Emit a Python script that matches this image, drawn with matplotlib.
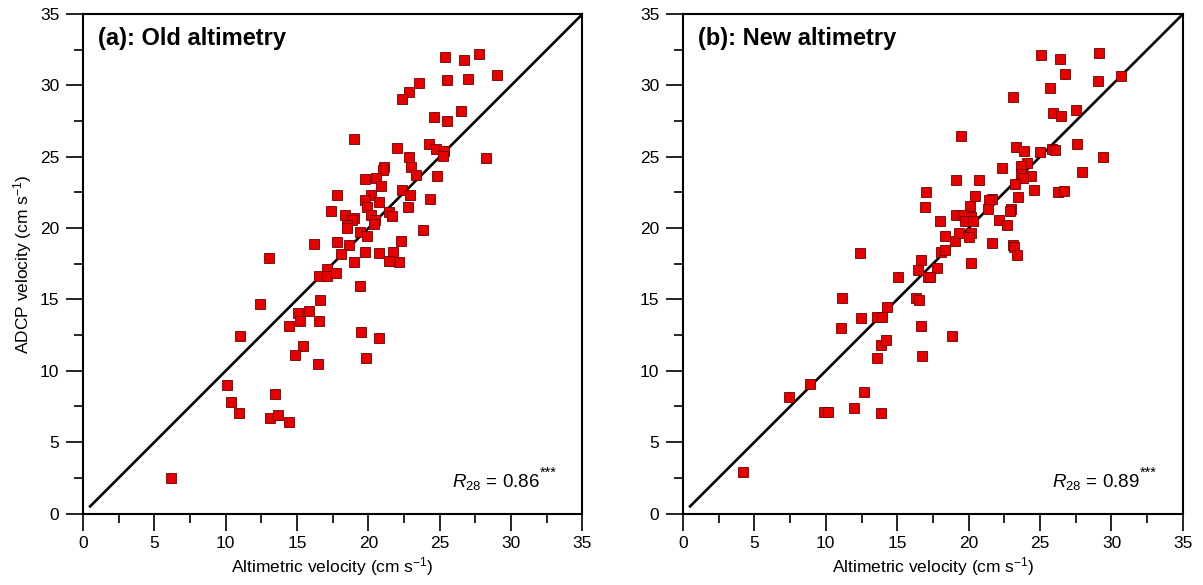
import matplotlib
matplotlib.use("Agg")
import matplotlib.pyplot as plt
from matplotlib.ticker import MultipleLocator

plt.rcParams['font.family'] = ['Liberation Sans', 'DejaVu Sans']
plt.rcParams['mathtext.fontset'] = 'custom'
plt.rcParams['mathtext.rm'] = 'Liberation Sans'
plt.rcParams['mathtext.it'] = 'Liberation Sans:italic'

# (a) old altimetry: altimetric vs ADCP velocity (cm/s)
old_alt = [25.34, 26.67, 27.77, 28.98, 25.5, 26.95, 23.56, 22.81, 22.35, 26.46, 24.59, 25.53,
           18.96, 22.0, 24.26, 24.73, 25.32, 25.22, 28.21, 22.81, 23.0, 21.08, 21.04, 23.35,
           24.78, 19.78, 20.55, 20.9, 17.79, 20.17, 22.37, 22.89, 24.33, 19.75, 20.76, 19.87,
           22.74, 17.37, 18.37, 18.96, 18.84, 20.2, 21.44, 21.67, 20.48, 20.36, 18.49, 18.53,
           23.84, 19.38, 19.89, 16.2, 17.83, 18.63, 22.3, 18.07, 19.75, 20.73, 21.71, 13.04,
           19.0, 21.41, 22.16,
           17.13, 16.57, 17.13, 17.74, 19.38, 12.41, 16.62, 15.03, 15.87, 14.45, 15.2, 16.55,
           11.03, 19.45, 20.76, 15.45, 14.85, 16.46, 19.82, 10.12, 10.4, 10.92, 13.46, 13.11,
           13.63, 14.45, 6.19]
old_adcp = [31.98, 31.8, 32.17, 30.72, 30.41, 30.46, 30.18, 29.55, 29.08, 28.24, 27.8, 27.52,
            26.26, 25.63, 25.86, 25.56, 25.37, 25.04, 24.88, 25.0, 24.3, 24.25, 24.06, 23.69,
            23.64, 23.45, 23.48, 22.94, 22.35, 22.35, 22.7, 22.35, 22.03, 22.0, 21.82, 21.49,
            21.49, 21.18, 20.95, 20.72, 20.6, 20.9, 21.16, 20.83, 20.6, 20.32, 20.25, 20.02,
            19.9, 19.71, 19.46, 18.92, 19.01, 18.83, 19.11, 18.22, 18.34, 18.27, 18.36, 17.89,
            17.64, 17.71, 17.61,
            17.1, 16.63, 16.63, 16.87, 15.93, 14.65, 14.93, 14.02, 14.16, 13.13, 13.48, 13.48,
            12.45, 12.73, 12.31, 11.72, 11.09, 10.51, 10.93, 9.04, 7.83, 7.06, 8.36, 6.71,
            6.87, 6.42, 2.5]

# (b) new altimetry
new_alt = [25.08, 26.37, 29.13, 26.77, 30.64, 29.06, 25.67, 23.1, 27.49, 25.92, 26.49, 19.49,
           27.61, 23.35, 23.87, 25.01, 25.85, 26.04, 29.43, 22.35, 24.1, 23.68, 23.65, 24.36,
           23.84, 27.96, 19.14, 20.71, 23.28, 17.04, 20.43, 23.47, 24.57, 26.23, 26.7, 21.65,
           21.41, 16.92, 20.13, 21.34, 23.0, 22.88, 18.02, 19.12, 19.59, 20.17, 19.73, 20.32,
           22.11, 22.72, 18.37, 19.03, 19.35, 20.2, 20.04, 21.65, 23.12, 23.19, 23.4, 12.36,
           18.07, 18.37, 16.67, 20.17,
           16.43, 17.79, 15.05, 17.13, 17.32, 11.1, 16.34, 16.5, 14.26, 12.46, 13.56, 13.93,
           11.03, 16.67, 18.82, 13.88, 14.19, 13.58, 16.71, 8.86, 7.43, 12.69, 9.86, 10.14,
           11.94, 13.86, 4.19]
new_adcp = [32.14, 31.86, 32.28, 30.83, 30.69, 30.3, 29.83, 29.17, 28.31, 28.08, 27.87, 26.47,
            25.91, 25.7, 25.37, 25.35, 25.51, 25.44, 25.0, 24.2, 24.53, 24.32, 23.8, 23.64,
            23.52, 23.92, 23.38, 23.38, 23.1, 22.56, 22.24, 22.19, 22.66, 22.56, 22.59, 22.07,
            22.0, 21.51, 21.54, 21.37, 21.35, 21.18, 20.51, 20.9, 20.9, 20.79, 20.48, 20.53,
            20.6, 20.23, 19.43, 19.13, 19.67, 19.67, 19.39, 18.99, 18.85, 18.66, 18.08, 18.27,
            18.34, 18.48, 17.75, 17.52,
            17.05, 17.17, 16.59, 16.59, 16.59, 15.12, 15.12, 14.95, 14.46, 13.71, 13.78, 13.78,
            13.03, 13.13, 12.47, 11.84, 12.14, 10.88, 11.05, 9.11, 8.18, 8.5, 7.1, 7.1,
            7.4, 7.01, 2.92]

titles = ["(a): Old altimetry", "(b): New altimetry"]
r_values = ["0.86", "0.89"]
one_to_one = [0.5, 35]

fig = plt.figure(figsize=(12.03, 5.85), dpi=100)
ax_a = fig.add_axes([0.0690, 0.1222, 0.4152, 0.8538])
ax_b = fig.add_axes([0.5677, 0.1222, 0.4156, 0.8538])

panels = [(ax_a, old_alt, old_adcp), (ax_b, new_alt, new_adcp)]
for i, (ax, xs, ys) in enumerate(panels):
    ax.plot(one_to_one, one_to_one, color='black', lw=1.9, zorder=2, clip_on=True)
    ax.plot(xs, ys, linestyle='none', marker='s', markersize=6.8,
            markerfacecolor='#e60000', markeredgecolor='#6e0000',
            markeredgewidth=0.6, zorder=3)
    ax.set_xlim(0, 35)
    ax.set_ylim(0, 35)
    ax.xaxis.set_major_locator(MultipleLocator(5))
    ax.xaxis.set_minor_locator(MultipleLocator(2.5))
    ax.yaxis.set_major_locator(MultipleLocator(5))
    ax.yaxis.set_minor_locator(MultipleLocator(2.5))
    ax.tick_params(which='major', direction='out', length=12, width=1.2,
                   labelsize=12.5, color='black')
    ax.tick_params(which='minor', direction='out', length=6.5, width=1.2)
    ax.tick_params(axis='x', which='major', pad=4)
    ax.tick_params(axis='y', which='major', pad=5)
    for sp in ax.spines.values():
        sp.set_linewidth(1.5)
    ax.set_xlabel('Altimetric velocity (cm s$^{\\mathregular{-1}}$)', fontsize=12.5, labelpad=3)
    ax.text(0.03, 0.952, titles[i], transform=ax.transAxes, fontsize=17,
            fontweight='bold', ha='left', va='center')
    t = ax.text(0.738, 0.053, r'$\mathit{R_{28}}$' + ' = ' + r_values[i],
                transform=ax.transAxes, fontsize=13.5, ha='left', va='baseline')
    ax.annotate('***', xy=(1.0, 0.6), xycoords=t, fontsize=10.5,
                ha='left', va='bottom', xytext=(0.5, 0), textcoords='offset points')

ax_a.set_ylabel('ADCP velocity (cm s$^{\\mathregular{-1}}$)', fontsize=12.5, labelpad=4)

fig.savefig('out.png', dpi=100)
